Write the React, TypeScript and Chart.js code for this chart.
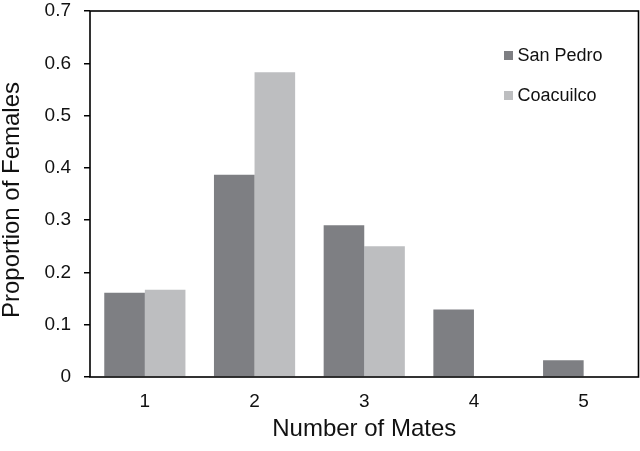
import React, { useEffect, useRef } from "react";
import { Chart, registerables } from "chart.js";

Chart.register(...registerables);

const categories = ["1", "2", "3", "4", "5"];
const sanPedro = [0.161, 0.387, 0.29, 0.129, 0.032];
const coacuilco = [0.167, 0.583, 0.25, 0, 0];
const seriesLabels = ["San Pedro", "Coacuilco"];
const seriesColors = ["#7e7f83", "#bdbec0"];
const yTickLabels = ["0", "0.1", "0.2", "0.3", "0.4", "0.5", "0.6", "0.7"];
const xTitle = "Number of Mates";
const yTitle = "Proportion of Females";

const FONT = "'Liberation Sans', Arial, Helvetica, sans-serif";

const framePlugin = {
  id: "frame",
  afterDraw(chart: any) {
    const { ctx, chartArea } = chart;
    const { left, top, right, bottom } = chartArea;
    ctx.save();
    ctx.strokeStyle = "#000";
    ctx.lineWidth = 1.6;
    ctx.strokeRect(left, top, right - left, bottom - top);
    // y axis title
    ctx.save();
    ctx.font = `24px ${FONT}`;
    ctx.fillStyle = "#111";
    ctx.textAlign = "center";
    ctx.textBaseline = "middle";
    ctx.translate(12.5, (top + bottom) / 2 + 6);
    ctx.rotate(-Math.PI / 2);
    ctx.fillText(yTitle, 0, 0);
    ctx.restore();
    // legend
    ctx.font = `18px ${FONT}`;
    ctx.textBaseline = "middle";
    ctx.textAlign = "left";
    chart.data.datasets.forEach((ds: any, i: number) => {
      const cy = 55.5 + i * 40;
      ctx.fillStyle = ds.backgroundColor;
      ctx.fillRect(504, cy - 4.5, 9, 9);
      ctx.fillStyle = "#111";
      ctx.fillText(ds.label, 517.5, cy + 1);
    });
    ctx.restore();
  },
};

export default function App() {
  const ref = useRef<HTMLCanvasElement | null>(null);
  useEffect(() => {
    if (!ref.current) return;
    const chart = new Chart(ref.current, {
      type: "bar",
      data: {
        labels: categories,
        datasets: [
          { label: seriesLabels[0], data: sanPedro, backgroundColor: seriesColors[0] },
          { label: seriesLabels[1], data: coacuilco, backgroundColor: seriesColors[1] },
        ],
      },
      options: {
        responsive: false,
        animation: false,
        devicePixelRatio: 1,
        layout: { padding: { top: 11, right: 1.5, left: 0, bottom: 0 } },
        datasets: { bar: { categoryPercentage: 0.74, barPercentage: 1.0 } },
        plugins: {
          legend: { display: false },
          tooltip: { enabled: false },
        },
        scales: {
          x: {
            grid: { display: false, drawTicks: false },
            border: { display: false },
            ticks: {
              color: "#111",
              padding: 13,
              font: { family: FONT, size: 19 },
            },
            title: {
              display: true,
              text: xTitle,
              color: "#111",
              font: { family: FONT, size: 24 },
              padding: { top: 0, bottom: 7 },
            },
            afterFit(scale: any) {
              scale.height = 74;
              scale.paddingLeft = 0;
              scale.paddingRight = 0;
            },
          },
          y: {
            min: 0,
            max: 0.7,
            ticks: {
              stepSize: 0.1,
              color: "#111",
              padding: 13,
              font: { family: FONT, size: 19 },
              callback: (_v: any, i: number) => yTickLabels[i],
            },
            grid: {
              drawOnChartArea: false,
              drawTicks: true,
              tickLength: 6,
              color: "#000",
              lineWidth: 1.5,
            },
            border: { display: false },
            title: { display: false },
            afterFit(scale: any) {
              scale.width = 90;
              scale.paddingTop = 0;
              scale.paddingBottom = 0;
            },
          },
        },
      },
      plugins: [framePlugin],
    } as any);
    return () => chart.destroy();
  }, []);
  return (
    <div style={{ position: "absolute", left: 0, top: 0, width: 640, height: 451, background: "#fff" }}>
      <canvas ref={ref} width={640} height={451} style={{ display: "block" }} />
    </div>
  );
}
